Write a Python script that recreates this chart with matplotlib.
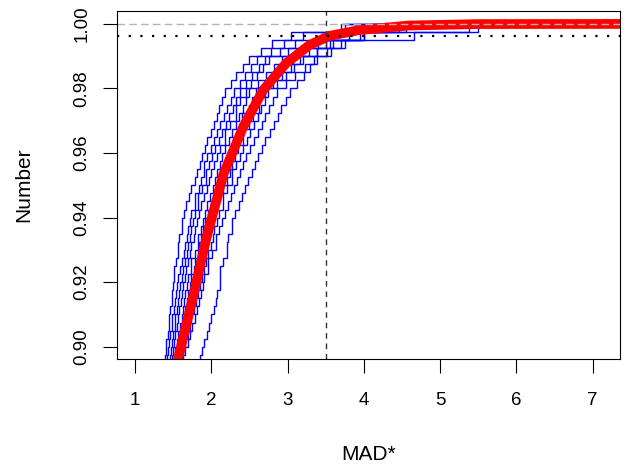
#!/usr/bin/env python3
# -*- coding: utf-8 -*-
import numpy as np
import matplotlib
matplotlib.use("Agg")
import matplotlib.pyplot as plt


# upper tail of the empirical cdf for every simulated run
# (MAD* values where the ecdf makes a jump, top 42 points of each run)
run_01 = [1.39, 1.40, 1.41, 1.43, 1.44, 1.45, 1.46, 1.48, 1.49, 1.50,
          1.51, 1.51, 1.54, 1.56, 1.56, 1.58, 1.62, 1.62,
          1.64, 1.67, 1.71, 1.74, 1.78, 1.81, 1.85, 1.88,
          1.92, 1.95, 1.99, 2.03, 2.07, 2.10, 2.14, 2.18,
          2.26, 2.33, 2.42, 2.50, 2.65, 2.80, 3.05, 3.70]
run_02 = [1.42, 1.43, 1.45, 1.46, 1.48, 1.49, 1.51, 1.52, 1.54, 1.55,
          1.57, 1.59, 1.62, 1.64, 1.66, 1.68, 1.70, 1.72,
          1.73, 1.78, 1.78, 1.84, 1.87, 1.91, 1.91, 1.95,
          1.99, 2.04, 2.08, 2.12, 2.17, 2.21, 2.26, 2.30,
          2.37, 2.44, 2.52, 2.60, 2.78, 2.95, 3.20, 3.75]
run_03 = [1.46, 1.47, 1.49, 1.50, 1.52, 1.53, 1.55, 1.56, 1.58, 1.59,
          1.61, 1.63, 1.66, 1.68, 1.70, 1.72, 1.74, 1.76,
          1.79, 1.83, 1.83, 1.88, 1.93, 1.93, 1.97, 2.01,
          2.05, 2.10, 2.14, 2.19, 2.23, 2.28, 2.32, 2.37,
          2.45, 2.53, 2.62, 2.70, 2.90, 3.10, 3.50, 4.46]
run_04 = [1.48, 1.50, 1.51, 1.53, 1.55, 1.56, 1.58, 1.60, 1.61, 1.63,
          1.65, 1.67, 1.70, 1.72, 1.74, 1.77, 1.79, 1.81,
          1.84, 1.87, 1.91, 1.94, 1.97, 2.00, 2.04, 2.07,
          2.11, 2.18, 2.18, 2.25, 2.32, 2.32, 2.38, 2.45,
          2.52, 2.60, 2.68, 2.76, 3.00, 3.30, 3.60, 3.90]
run_05 = [1.51, 1.53, 1.55, 1.57, 1.59, 1.61, 1.63, 1.64, 1.66, 1.68,
          1.70, 1.74, 1.74, 1.78, 1.83, 1.83, 1.86, 1.89,
          1.92, 1.95, 1.98, 2.02, 2.05, 2.08, 2.11, 2.14,
          2.18, 2.23, 2.27, 2.32, 2.36, 2.41, 2.45, 2.50,
          2.61, 2.72, 2.82, 2.93, 3.15, 3.40, 4.66, 5.50]
run_06 = [1.54, 1.56, 1.58, 1.60, 1.62, 1.64, 1.66, 1.68, 1.70, 1.72,
          1.74, 1.77, 1.79, 1.82, 1.84, 1.87, 1.89, 1.92,
          1.96, 2.00, 2.04, 2.08, 2.12, 2.16, 2.20, 2.24,
          2.28, 2.28, 2.36, 2.40, 2.40, 2.50, 2.54, 2.59,
          2.71, 2.83, 2.95, 3.07, 3.28, 3.50, 3.80, 4.10]
run_07 = [1.57, 1.59, 1.61, 1.64, 1.66, 1.68, 1.71, 1.73, 1.76, 1.78,
          1.81, 1.84, 1.86, 1.89, 1.92, 1.94, 1.97, 2.00,
          2.04, 2.08, 2.12, 2.16, 2.20, 2.24, 2.27, 2.31,
          2.35, 2.42, 2.42, 2.50, 2.55, 2.62, 2.62, 2.70,
          2.81, 2.93, 3.04, 3.16, 3.38, 3.60, 4.00, 5.38]
run_08 = [1.60, 1.63, 1.66, 1.69, 1.72, 1.74, 1.77, 1.80, 1.82, 1.85,
          1.88, 1.91, 1.93, 1.96, 1.99, 2.02, 2.04, 2.07,
          2.10, 2.16, 2.16, 2.20, 2.27, 2.27, 2.33, 2.37,
          2.42, 2.47, 2.51, 2.56, 2.61, 2.65, 2.70, 2.75,
          2.86, 2.98, 3.09, 3.20, 3.38, 3.55, 3.80, 4.20]
run_09 = [1.63, 1.66, 1.69, 1.72, 1.75, 1.78, 1.81, 1.84, 1.86, 1.89,
          1.91, 1.96, 1.96, 2.01, 2.06, 2.06, 2.10, 2.14,
          2.18, 2.22, 2.26, 2.30, 2.34, 2.38, 2.42, 2.46,
          2.51, 2.56, 2.61, 2.66, 2.71, 2.76, 2.81, 2.86,
          2.98, 3.10, 3.23, 3.35, 3.52, 3.70, 3.95, 4.30]
run_10 = [1.85, 1.88, 1.91, 1.94, 1.97, 2.00, 2.03, 2.06, 2.08, 2.11,
          2.12, 2.12, 2.16, 2.20, 2.20, 2.22, 2.27, 2.27,
          2.31, 2.36, 2.40, 2.44, 2.48, 2.53, 2.57, 2.61,
          2.66, 2.71, 2.77, 2.82, 2.87, 2.92, 2.98, 3.03,
          3.12, 3.21, 3.30, 3.39, 3.57, 3.75, 4.00, 4.55]

ecdf_base = 0.895   # ecdf level just below the first listed jump
ecdf_step = 0.0025  # 1/n

# theoretical cdf (red)
theory_x = [1.50, 1.57, 1.74, 1.94, 2.16, 2.42, 2.68, 2.98, 3.29, 3.55,
            3.94, 4.59, 5.50, 7.50]
theory_y = [0.8900, 0.8968, 0.9134, 0.9340, 0.9535, 0.9682, 0.9795, 0.9878,
            0.9935, 0.9963, 0.9981, 0.9995, 0.99995, 1.0]

mad_cut = 3.5
level_cut = 0.9963

x_ticks = [1, 2, 3, 4, 5, 6, 7]
y_ticks = [0.90, 0.92, 0.94, 0.96, 0.98, 1.00]


def ecdf_line(jumps):
    xs = [jumps[0]] + list(jumps) + [9.0]
    ys = [0.85] + [ecdf_base + ecdf_step * (k + 1) for k in range(len(jumps))]
    ys = ys + [ys[-1]]
    return xs, ys


def mad_plot():
    plt.rcParams['font.family'] = ['Liberation Sans', 'DejaVu Sans']
    fig = plt.figure(figsize=(6.32, 4.69), dpi=100)
    ax = fig.add_axes([117 / 632, 1 - 359 / 469, 503 / 632, 348 / 469])

    runs = [run_01, run_02, run_03, run_04, run_05,
            run_06, run_07, run_08, run_09, run_10]
    for run in runs:
        xs, ys = ecdf_line(run)
        ax.plot(xs, ys, color='#0000ff', lw=1.0, drawstyle='steps-post',
                solid_joinstyle='miter')

    ax.plot(theory_x, theory_y, color='#ff0000', lw=7.0, solid_capstyle='butt')

    # reference lines
    ax.axhline(1.0, color='#b4b4b4', lw=1.0, dashes=(5.5, 3))
    ax.axhline(level_cut, color='black', lw=1.6, dashes=(1, 4.25))
    ax.axvline(mad_cut, color='#333333', lw=1.0, dashes=(4, 3.5))

    ax.set_xlim(0.764, 7.358)
    ax.set_ylim(0.8962, 1.0040)
    ax.set_xticks(x_ticks)
    ax.set_xticklabels([str(v) for v in x_ticks])
    ax.set_yticks(y_ticks)
    ax.set_yticklabels(["{:.2f}".format(v) for v in y_ticks],
                       rotation=90, va='center')

    ax.tick_params(direction='out', length=10, width=0.8, labelsize=13.5,
                   color='black')
    ax.tick_params(axis='x', pad=14)
    ax.tick_params(axis='y', pad=9)
    for sp in ax.spines.values():
        sp.set_linewidth(0.8)

    ax.set_xlabel('MAD*', fontsize=15)
    ax.set_ylabel('Number', fontsize=15)
    ax.xaxis.set_label_coords(0.5, -(445 - 359) / 348, transform=ax.transAxes)
    ax.yaxis.set_label_coords(-(117 - 33) / 503, 0.5, transform=ax.transAxes)

    fig.savefig('out.png', dpi=100)


if __name__ == "__main__":
    mad_plot()
